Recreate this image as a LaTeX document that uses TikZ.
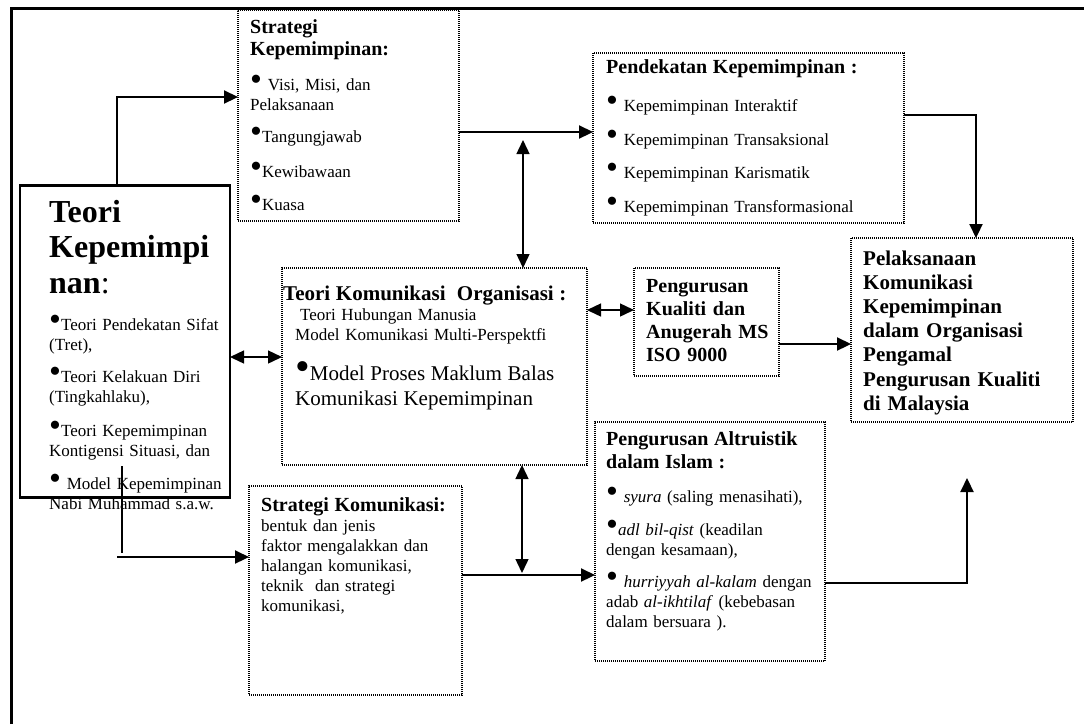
\documentclass[tikz,border=0pt]{standalone}
\usepackage{fontspec}
\setmainfont{Liberation Serif}
\usepackage{tikz}
\usetikzlibrary{arrows.meta, positioning}
\newcommand{\bul}{\scalebox{2}{\textbullet}}

\begin{document}
\begin{tikzpicture}[x=1pt, y=1pt, >={Triangle[length=14pt, width=13pt]},
  box/.style={draw, line width=1.3pt, dash pattern=on 1pt off 1pt, anchor=north west, inner sep=0pt, outer sep=0pt},
  solidbox/.style={draw, line width=2.6pt, anchor=north west, inner sep=0pt, outer sep=0pt},
  txt/.style={anchor=base west, inner sep=0pt, align=left, text width=#1, font=\fontsize{17}{20}\selectfont},
  link/.style={line width=2.2pt},
  link2/.style={line width=1.4pt}]
\useasboundingbox (0,0) rectangle (1084,-724);
\draw[line width=3pt] (11,-724) -- (11,-8) -- (1084,-8);
% boxes
\node[box, minimum width=221pt, minimum height=211pt] (strKep) at (238,-10) {};
\node[box, minimum width=311pt, minimum height=170pt] (pend) at (593,-53) {};
\node[solidbox, minimum width=210pt, minimum height=312pt] (teori) at (20,-185.5) {};
\node[box, minimum width=305pt, minimum height=197pt] (kom) at (282,-268) {};
\node[box, minimum width=145pt, minimum height=108pt, right=47pt of kom.north east, anchor=north west] (iso) {};
\node[box, minimum width=222pt, minimum height=184pt] (pel) at (851,-238) {};
\node[box, minimum width=213pt, minimum height=209pt] (strKom) at (249,-486) {};
\node[box, minimum width=230pt, minimum height=239pt] (alt) at (595,-422) {};
% texts
\node[txt=205pt] (strKepT) at ([shift={(12,-23)}]strKep.north west) {{\fontsize{20}{22}\selectfont\bfseries Strategi\\Kepemimpinan:\par}
\vspace{15pt}
\bul{} Visi, Misi, dan\\Pelaksanaan\\[12pt]
\bul Tangungjawab\\[15pt]
\bul Kewibawaan\\[13pt]
\bul Kuasa};
\node[txt=295pt] (pendT) at ([shift={(13,-20)}]pend.north west) {{\fontsize{20}{22}\selectfont\bfseries Pendekatan Kepemimpinan :\par}
\vspace{18pt}
\bul{} Kepemimpinan Interaktif\\[14pt]
\bul{} Kepemimpinan Transaksional\\[13pt]
\bul{} Kepemimpinan Karismatik\\[14pt]
\bul{} Kepemimpinan Transformasional};
\node[txt=250pt] (teoriT) at ([shift={(29,-36.5)}]teori.north west) {{\fontsize{32}{35.5}\selectfont\bfseries Teori\\Kepemimpi\\nan\mdseries:\par}
\vspace{17pt}
\bul Teori Pendekatan Sifat\\(Tret),\\[12pt]
\bul Teori Kelakuan Diri\\(Tingkahlaku),\\[14pt]
\bul Teori Kepemimpinan\\Kontigensi Situasi, dan\\[13pt]
\bul{} Model Kepemimpinan\\Nabi Muhammad s.a.w.};
\node[txt=300pt] (komT) at ([shift={(1,-32)}]kom.north west) {{\fontsize{21}{24}\selectfont\bfseries Teori Komunikasi\ \ Organisasi :\par}
\hspace*{17pt}Teori Hubungan Manusia\\\hspace*{12pt}Model Komunikasi Multi-Perspektfi\par
\vspace{15pt}
{\fontsize{21}{25}\selectfont\hspace*{12pt}\bul Model Proses Maklum Balas\\\hspace*{12pt}Komunikasi Kepemimpinan\par}};
\node[txt=135pt, font=\fontsize{20}{23}\selectfont\bfseries] (isoT) at ([shift={(12,-24)}]iso.north west) {Pengurusan\\Kualiti dan\\Anugerah MS\\ISO 9000};
\node[txt=210pt, font=\fontsize{21}{24.2}\selectfont\bfseries] (pelT) at ([shift={(12,-27)}]pel.north west) {Pelaksanaan\\Komunikasi\\Kepemimpinan\\dalam Organisasi\\Pengamal\\Pengurusan Kualiti\\di Malaysia};
\node[txt=200pt] (strKomT) at ([shift={(12,-25)}]strKom.north west) {{\fontsize{20}{22}\selectfont\bfseries Strategi Komunikasi:\par}
bentuk dan jenis\\faktor mengalakkan dan\\halangan komunikasi,\\teknik\ \ dan strategi\\komunikasi,};
\node[txt=225pt] (altT) at ([shift={(11,-23)}]alt.north west) {{\fontsize{20}{23}\selectfont\bfseries Pengurusan Altruistik\\dalam Islam :\par}
\vspace{14pt}
\bul{} \textit{syura} (saling menasihati),\\[13pt]
\bul\textit{adl bil-qist} (keadilan\\dengan kesamaan),\\[12pt]
\bul{} \textit{hurriyyah al-kalam} dengan\\adab \textit{al-ikhtilaf} (kebebasan\\dalam bersuara ).};
% connectors
\coordinate (k1) at (523,-140);
\coordinate (k2) at (122,-466);
\coordinate (k3) at (117,-557);
\coordinate (k4) at (522,-573);
\coordinate (k5) at (967,-478);
\draw[->, link] ([xshift=-8pt]teori.north) |- ([yshift=18.5pt]strKep.west);
\draw[->, link] ([yshift=-16.5pt]strKep.east) -- ([yshift=-16.5pt]strKep.east -| pend.west);
\draw[<->, link2] (k1) -- (k1 |- kom.north);
\draw[->, link] ([yshift=23pt]pend.east) -| ([xshift=14pt]pel.north);
\draw[<->, link2] ([yshift=-15.5pt]teori.east) -- ([yshift=-15.5pt]teori.east -| kom.west);
\draw[<->, link2] ([yshift=12pt]iso.west -| kom.east) -- ([yshift=12pt]iso.west);
\draw[->, link] ([yshift=-22pt]iso.east) -- ([yshift=-22pt]iso.east -| pel.west);
\draw[link2] (k2) -- ([yshift=4pt]k2 |- k3);
\draw[->, link] (k3) -- (k3 -| strKom.west);
\draw[->, link] ([yshift=15.5pt]strKom.east) -- ([yshift=15.5pt]strKom.east -| alt.west);
\draw[<->, link2] (k4 |- kom.south) -- (k4);
\draw[->, link] ([yshift=-41.5pt]alt.east) -| (k5);
\end{tikzpicture}
\end{document}
